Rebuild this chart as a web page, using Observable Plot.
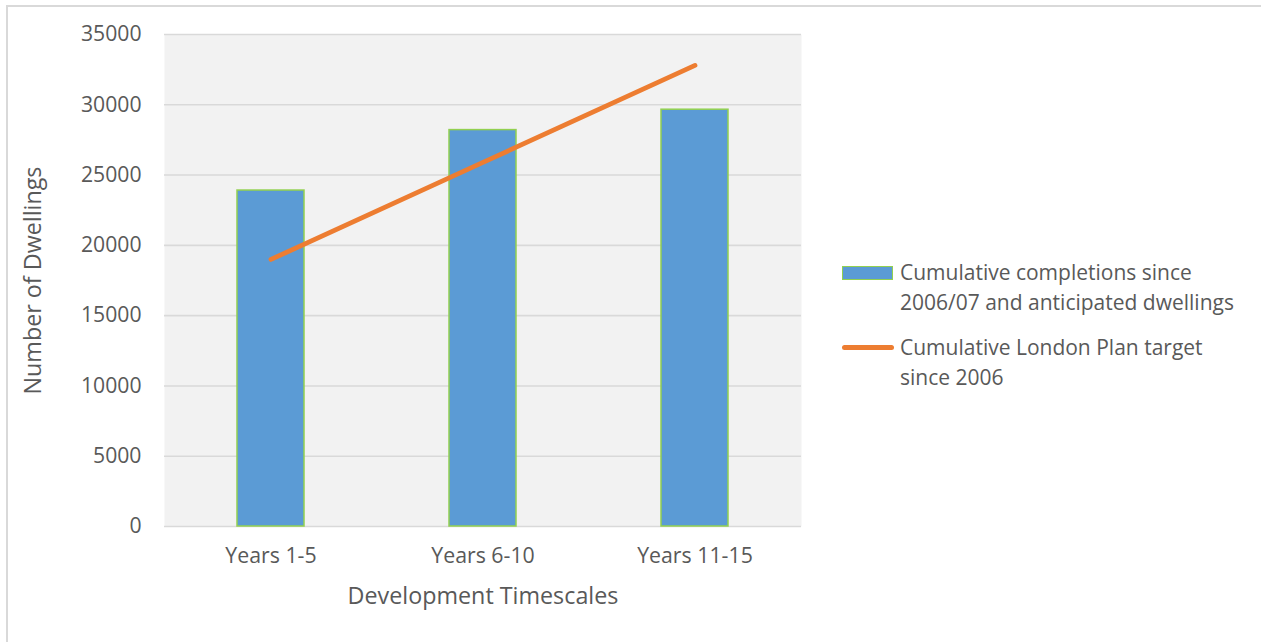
<!DOCTYPE html>
<html>
<head>
<meta charset="utf-8">
<script src="https://cdn.jsdelivr.net/npm/d3@7"></script>
<script src="https://cdn.jsdelivr.net/npm/@observablehq/plot@0.6"></script>
<style>
  html, body { margin: 0; padding: 0; background: #ffffff; }
  body { width: 1261px; height: 642px; position: relative; overflow: hidden; font-family: "Open Sans", Lato, sans-serif; color: #595959; }
  #border { position: absolute; left: 6px; top: 5px; width: 1270px; height: 650px; border: 2px solid #d9d9d9; box-sizing: border-box; }
  #chart { position: absolute; left: 0; top: 0; }
  #legend { position: absolute; left: 842px; top: 0; font-size: 21px; line-height: 30px; }
  .item { position: absolute; left: 0; white-space: nowrap; }
  .item .txt { position: absolute; left: 58px; top: 0; }
  .sw-bar { position: absolute; left: 0; width: 49px; height: 12px; background: #5b9bd5; border: 1.5px solid #92d050; }
  .sw-line { position: absolute; left: 0; width: 52px; height: 5px; border-radius: 3px; background: #ed7d31; }
</style>
</head>
<body>
<div id="border"></div>
<div id="chart"></div>
<div id="legend">
  <div class="item" style="top:257px;">
    <div class="sw-bar" style="top:9px;"></div>
    <div class="txt">Cumulative completions since<br>2006/07 and anticipated dwellings</div>
  </div>
  <div class="item" style="top:332px;">
    <div class="sw-line" style="top:13px;"></div>
    <div class="txt">Cumulative London Plan target<br>since 2006</div>
  </div>
</div>
<script>
// Development timescale bands
const categories = ["Years 1-5", "Years 6-10", "Years 11-15"];
// Cumulative completions since 2006/07 and anticipated dwellings
const completions = [23900, 28200, 29650];
// Cumulative London Plan target since 2006
const target = [19000, 25900, 32800];
// Y axis ticks
const yTicks = [0, 5000, 10000, 15000, 20000, 25000, 30000, 35000];

const rows = categories.map((c, i) => ({category: c, completions: completions[i], target: target[i]}));

const textColor = "#595959";
const font = "'Open Sans', Lato, sans-serif";

const chart = Plot.plot({
  width: 1261,
  height: 642,
  marginLeft: 164,
  marginRight: 460,
  marginTop: 34,
  marginBottom: 116,
  style: {fontFamily: font, color: textColor, background: "transparent", overflow: "visible"},
  x: {domain: categories, paddingInner: 0.684, paddingOuter: 0.342, label: null},
  y: {domain: [0, 35000], label: null},
  marks: [
    Plot.frame({fill: "#f2f2f2", stroke: null}),
    Plot.gridY(yTicks, {stroke: "#d9d9d9", strokeOpacity: 1, strokeWidth: 1.6}),
    Plot.barY(rows, {x: "category", y: "completions", fill: "#5b9bd5", stroke: "#92d050", strokeWidth: 1.5}),
    Plot.lineY(rows, {x: "category", y: "target", stroke: "#ed7d31", strokeWidth: 4.8, strokeLinecap: "round"}),
    Plot.axisX({tickSize: 0, tickPadding: 21, fontSize: 21.3, fill: textColor, label: null}),
    Plot.axisY({ticks: yTicks, tickFormat: d => String(d), tickSize: 0, tickPadding: 23, fontSize: 21.2, fill: textColor, label: null}),
    Plot.text(["Development Timescales"], {frameAnchor: "bottom", lineAnchor: "middle", textAnchor: "middle", dy: 70, fontSize: 23.3, fill: textColor}),
    Plot.text(["Number of Dwellings"], {frameAnchor: "left", lineAnchor: "middle", textAnchor: "middle", dx: -131, rotate: -90, fontSize: 23.3, fill: textColor})
  ]
});
document.getElementById("chart").appendChild(chart);
</script>
</body>
</html>
